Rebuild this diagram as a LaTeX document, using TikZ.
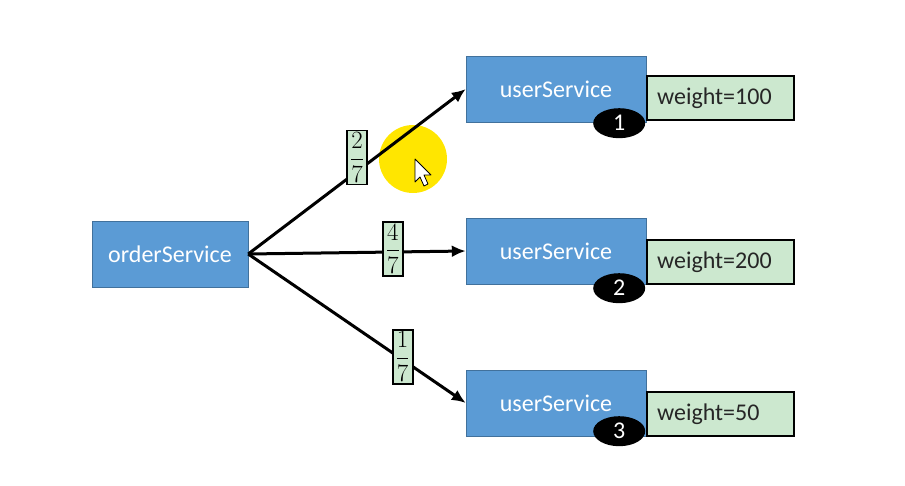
\documentclass[tikz,border=0pt]{standalone}
\usepackage{fontspec}
\setmainfont{Carlito}
\usepackage{amsmath}
\usetikzlibrary{shapes.geometric, arrows.meta, positioning}

\definecolor{svcblue}{RGB}{91,155,213}
\definecolor{svcedge}{RGB}{65,113,156}
\definecolor{weightgreen}{RGB}{204,232,207}
\definecolor{markyellow}{RGB}{255,230,0}

\begin{document}
\begin{tikzpicture}[x=1pt, y=-1pt,
    svc_node/.style={rectangle, draw=svcedge, fill=svcblue, text=white, minimum height=66pt, font=\fontsize{24}{28}\selectfont},
    weight_node/.style={rectangle, draw, line width=1.8pt, fill=weightgreen, text width=127pt, align=left, inner xsep=10pt, minimum height=44pt, font=\fontsize{24}{28}\selectfont, text=black!85},
    num_node/.style={ellipse, fill=black, text=white, minimum width=52pt, minimum height=30pt, inner sep=0pt, font=\fontsize{24}{28}\selectfont},
    frac_node/.style={rectangle, draw, line width=1.8pt, fill=weightgreen, inner xsep=3pt, inner ysep=2pt, font=\fontsize{30}{34}\selectfont},
    link/.style={-{Latex[length=14pt,width=12pt]}, line width=3pt},
    ]
    \useasboundingbox (0,0) rectangle (905,485);

    % Nodes
    \node[svc_node, minimum width=156pt] (order) at (170,254) {orderService};
    \node[svc_node, minimum width=180pt] (u1) at (556,89) {userService};
    \node[svc_node, minimum width=180pt] (u2) at (556,251) {userService};
    \node[svc_node, minimum width=180pt] (u3) at (556,403) {userService};

    \node[weight_node, right=0pt of u1, yshift=-9pt] (w1) {weight=100};
    \node[weight_node, right=0pt of u2, yshift=-11pt] (w2) {weight=200};
    \node[weight_node, right=0pt of u3, yshift=-11pt] (w3) {weight=50};

    \node[num_node, xshift=-27pt, yshift=-1pt] (n1) at (u1.south east) {1};
    \node[num_node, xshift=-27pt, yshift=-4pt] (n2) at (u2.south east) {2};
    \node[num_node, xshift=-27pt, yshift=5pt] (n3) at (u3.south east) {3};

    % cursor highlight
    \fill[markyellow] (413,159) circle (34);
    \draw[fill=white, line width=0.8pt, line join=round] (415,159) -- ++(0,23) -- ++(5,-5) -- ++(4,9) -- ++(4,-2) -- ++(-4,-9) -- ++(7,0) -- cycle;

    % Arrows
    \draw[link] (order.east) -- (u1.west) node[frac_node, pos=0.5, yshift=14pt] (f1) {$\dfrac{2}{7}$};
    \draw[link] (order.east) -- (u2.west) node[frac_node, pos=0.665, yshift=3pt] (f2) {$\dfrac{4}{7}$};
    \draw[link] (order.east) -- (u3.west) node[frac_node, pos=0.71, yshift=3pt] (f3) {$\dfrac{1}{7}$};
\end{tikzpicture}
\end{document}
